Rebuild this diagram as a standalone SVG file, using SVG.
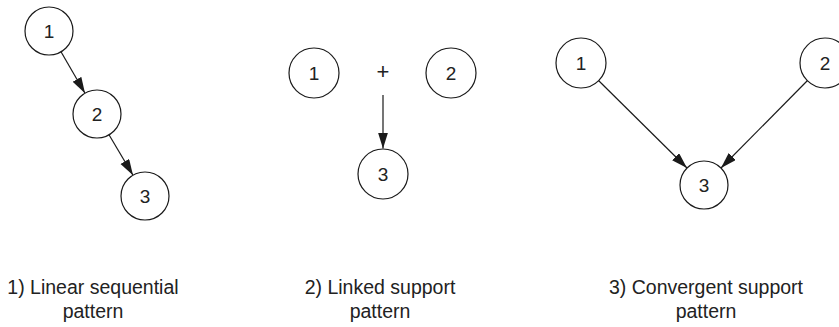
<svg xmlns="http://www.w3.org/2000/svg" width="839" height="327" viewBox="0 0 839 327">
<style>
.node circle{fill:#fff;stroke:#1a1a1a;stroke-width:1.2}
.node text,.lbl{font-family:"Liberation Sans",Arial,sans-serif;fill:#222;text-anchor:middle}
.node text{font-size:19px}
.lbl{font-size:19.5px}
.plus{font-family:"Liberation Sans",Arial,sans-serif;fill:#222;text-anchor:middle;font-size:22px}
.edge{stroke:#1a1a1a;stroke-width:1.2;fill:none;marker-end:url(#ah)}
</style>
<defs>
<marker id="ah" markerUnits="userSpaceOnUse" markerWidth="17" markerHeight="11" refX="16" refY="5" orient="auto">
<path d="M0,0 L16,5 L0,10 z" fill="#1a1a1a"/>
</marker>
</defs>
<rect width="839" height="327" fill="#fff"/>
<g id="connectors">
<line class="edge" x1="61" y1="51.8" x2="85" y2="93.2"/>
<line class="edge" x1="109" y1="134.8" x2="133" y2="175.2"/>
<line class="edge" x1="383" y1="95" x2="383" y2="148.5"/>
<line class="edge" x1="598" y1="80" x2="687" y2="168"/>
<line class="edge" x1="808" y1="80" x2="721" y2="168"/>
</g>
<g id="p1n1" class="node"><circle cx="49" cy="31" r="24"/><text x="49" y="38">1</text></g>
<g id="p1n2" class="node"><circle cx="97" cy="114" r="24"/><text x="97" y="121">2</text></g>
<g id="p1n3" class="node"><circle cx="145" cy="196" r="24"/><text x="145" y="203">3</text></g>
<g id="p2n1" class="node"><circle cx="314" cy="73" r="25"/><text x="314" y="80">1</text></g>
<g id="p2n2" class="node"><circle cx="451" cy="73" r="25"/><text x="451" y="80">2</text></g>
<g id="p2n3" class="node"><circle cx="383" cy="174" r="25"/><text x="383" y="181">3</text></g>
<text class="plus" x="383" y="79">+</text>
<g id="p3n1" class="node"><circle cx="581" cy="63" r="25"/><text x="581" y="70">1</text></g>
<g id="p3n2" class="node"><circle cx="825" cy="63" r="25"/><text x="825" y="70">2</text></g>
<g id="p3n3" class="node"><circle cx="704" cy="185" r="24"/><text x="704" y="192">3</text></g>
<text class="lbl" x="93" y="294">1) Linear sequential</text>
<text class="lbl" x="93" y="318">pattern</text>
<text class="lbl" x="380" y="294">2) Linked support</text>
<text class="lbl" x="380" y="318">pattern</text>
<text class="lbl" x="706" y="294">3) Convergent support</text>
<text class="lbl" x="706" y="318">pattern</text>
</svg>
